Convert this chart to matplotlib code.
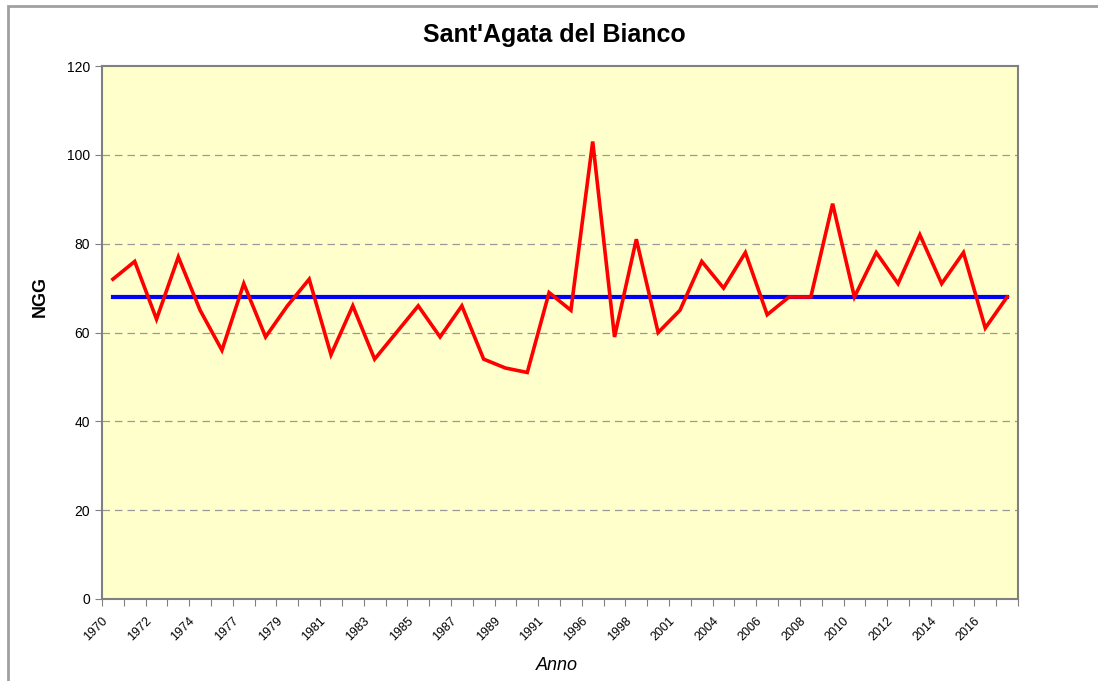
import numpy as np
import matplotlib
matplotlib.use("Agg")
import matplotlib.pyplot as plt
from matplotlib.patches import Rectangle
from matplotlib.transforms import ScaledTranslation

plt.rcParams['font.family'] = ['Liberation Sans', 'DejaVu Sans']

# anni (categorie) e valori NGG
anni = [1970, 1971, 1972, 1973, 1974, 1976, 1977, 1978, 1979, 1980,
        1981, 1982, 1983, 1984, 1985, 1986, 1987, 1988, 1989, 1990,
        1991, 1995, 1996, 1997, 1998, 2000, 2001, 2003, 2004, 2005,
        2006, 2007, 2008, 2009, 2010, 2011, 2012, 2013, 2014, 2015,
        2016, 2017]
ngg = [72, 76, 63, 77, 65, 56, 71, 59, 66, 72,
       55, 66, 54, 60, 66, 59, 66, 54, 52, 51,
       69, 65, 103, 59, 81, 60, 65, 76, 70, 78,
       64, 68, 68, 89, 68, 78, 71, 82, 71, 78,
       61, 68]
media = 68

fig = plt.figure(figsize=(10.98, 6.81), dpi=100)
# cornice del grafico
fig.patches.append(Rectangle((8/1098, -0.1), 1.2, 1.1 - 6/681, transform=fig.transFigure,
                             fill=False, edgecolor='#a0a0a0', linewidth=2))

ax = fig.add_axes([102/1098, 1-599/681, 916/1098, 533/681])
ax.set_facecolor('#ffffcc')

x = np.arange(len(anni)) + 0.5
ax.plot(x, [media]*len(anni), color='#0000ff', linewidth=3, zorder=3)
ax.plot(x, ngg, color='#ff0000', linewidth=2.6, zorder=4, solid_joinstyle='miter')

ax.set_xlim(0, len(anni))
ax.set_ylim(0, 120)
ax.set_yticks(np.arange(0, 121, 20))
for v in range(20, 120, 20):
    ax.axhline(v, color='#999999', linewidth=0.9, linestyle=(0, (6, 4)), zorder=1)

# tick fra le categorie, etichette ogni due anni
ax.set_xticks(np.arange(0, len(anni) + 1))
ax.set_xticklabels([])
ax.tick_params(axis='both', which='major', length=5, color='#808080', labelsize=10)
shift = ScaledTranslation(-7/100, -20/100, fig.dpi_scale_trans)
trans = ax.get_xaxis_transform() + shift
for xi, a in zip(x[::2], anni[::2]):
    ax.text(xi, 0, str(a), transform=trans, rotation=45, rotation_mode='anchor',
            ha='right', va='center', fontsize=9, clip_on=False)

for s in ax.spines.values():
    s.set_color('#808080')
    s.set_linewidth(1.5)

ax.set_title("Sant'Agata del Bianco", fontsize=18, fontweight='bold', pad=17, x=0.494)
ax.set_ylabel("NGG", fontsize=13, fontweight='bold')
ax.yaxis.set_label_coords(-0.058, 0.567)
ax.set_xlabel("Anno", fontsize=13, fontstyle='italic')
ax.xaxis.set_label_coords(0.497, -0.109)

plt.savefig("out.png", dpi=100)
